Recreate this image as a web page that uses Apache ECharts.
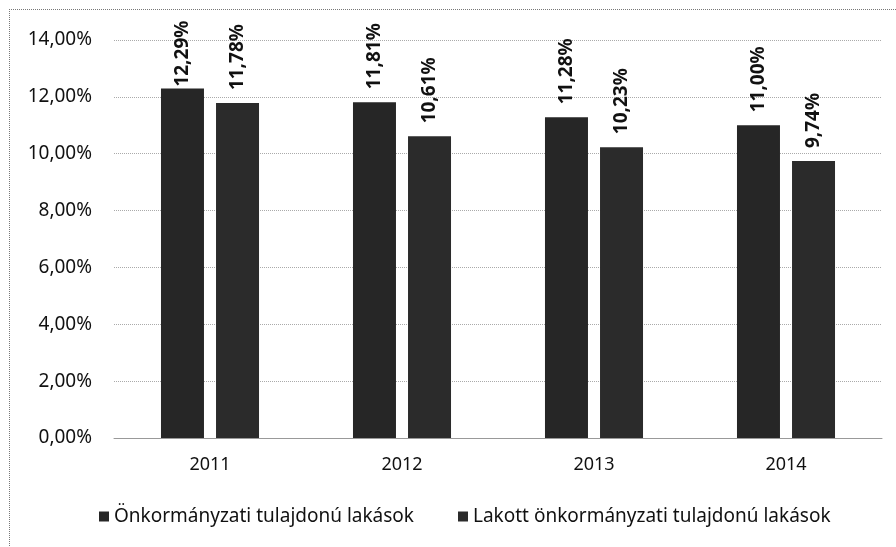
<!DOCTYPE html>
<html lang="hu">
<head>
    <meta charset="UTF-8">
    <title>Önkormányzati lakások</title>
    <script src="https://cdn.jsdelivr.net/npm/echarts@6/dist/echarts.min.js"></script>
    <style>
        body { margin: 0; background: #fff; }
        #frame {
            position: absolute; left: 9px; top: 9px; width: 900px; height: 560px;
            border-top: 1px dotted #777; border-left: 1px dotted #777;
        }
        #chart { position: absolute; left: 0; top: 0; width: 896px; height: 547px; }
    </style>
</head>
<body>
    <div id="frame"></div>
    <div id="chart"></div>
    <script>
        // adatok
        const years = ['2011', '2012', '2013', '2014'];
        const onkormanyzati = [12.29, 11.81, 11.28, 11.00];
        const lakott = [11.78, 10.61, 10.23, 9.74];
        const seriesNames = ['Önkormányzati tulajdonú lakások', 'Lakott önkormányzati tulajdonú lakások'];

        function pct(v) {
            return v.toFixed(2).replace('.', ',') + '%';
        }

        const font = '"Noto Sans", "Open Sans", sans-serif';

        const barLabel = {
            show: true,
            position: 'top',
            rotate: 90,
            align: 'left',
            verticalAlign: 'middle',
            distance: 13,
            fontFamily: font,
            fontSize: 19,
            fontWeight: 'bold',
            color: '#111',
            formatter: p => pct(p.value)
        };

        // a legmagasabb oszlop címkéje nem fér ki, ezért közelebb kerül
        const firstData = onkormanyzati.map((v, i) => i === 0 ? { value: v, label: { distance: 2 } } : v);

        const chart = echarts.init(document.getElementById('chart'));
        chart.setOption({
            animation: false,
            textStyle: { fontFamily: font },
            grid: { left: 114, right: 14, top: 40, bottom: 109 },
            legend: {
                bottom: 16,
                left: 94,
                itemGap: 44,
                itemWidth: 10,
                itemHeight: 10,
                icon: 'rect',
                textStyle: { fontFamily: font, fontSize: 19, color: '#111' },
                data: seriesNames
            },
            xAxis: {
                type: 'category',
                data: years,
                axisTick: { show: false },
                axisLine: { lineStyle: { color: '#999', width: 1 } },
                axisLabel: { fontFamily: font, fontSize: 18, color: '#111', margin: 18 }
            },
            yAxis: {
                type: 'value',
                min: 0,
                max: 14,
                interval: 2,
                axisLine: { show: false },
                axisTick: { show: false },
                splitLine: { lineStyle: { color: '#aaa', type: 'dotted' } },
                axisLabel: {
                    fontFamily: font, fontSize: 19, color: '#111', margin: 22,
                    formatter: v => pct(v)
                }
            },
            series: [
                {
                    name: seriesNames[0],
                    type: 'bar',
                    data: firstData,
                    barWidth: 43,
                    barGap: '28%',
                    itemStyle: { color: '#262626' },
                    label: barLabel
                },
                {
                    name: seriesNames[1],
                    type: 'bar',
                    data: lakott,
                    barWidth: 43,
                    itemStyle: { color: '#2b2b2b' },
                    label: barLabel
                }
            ]
        });
    </script>
</body>
</html>
